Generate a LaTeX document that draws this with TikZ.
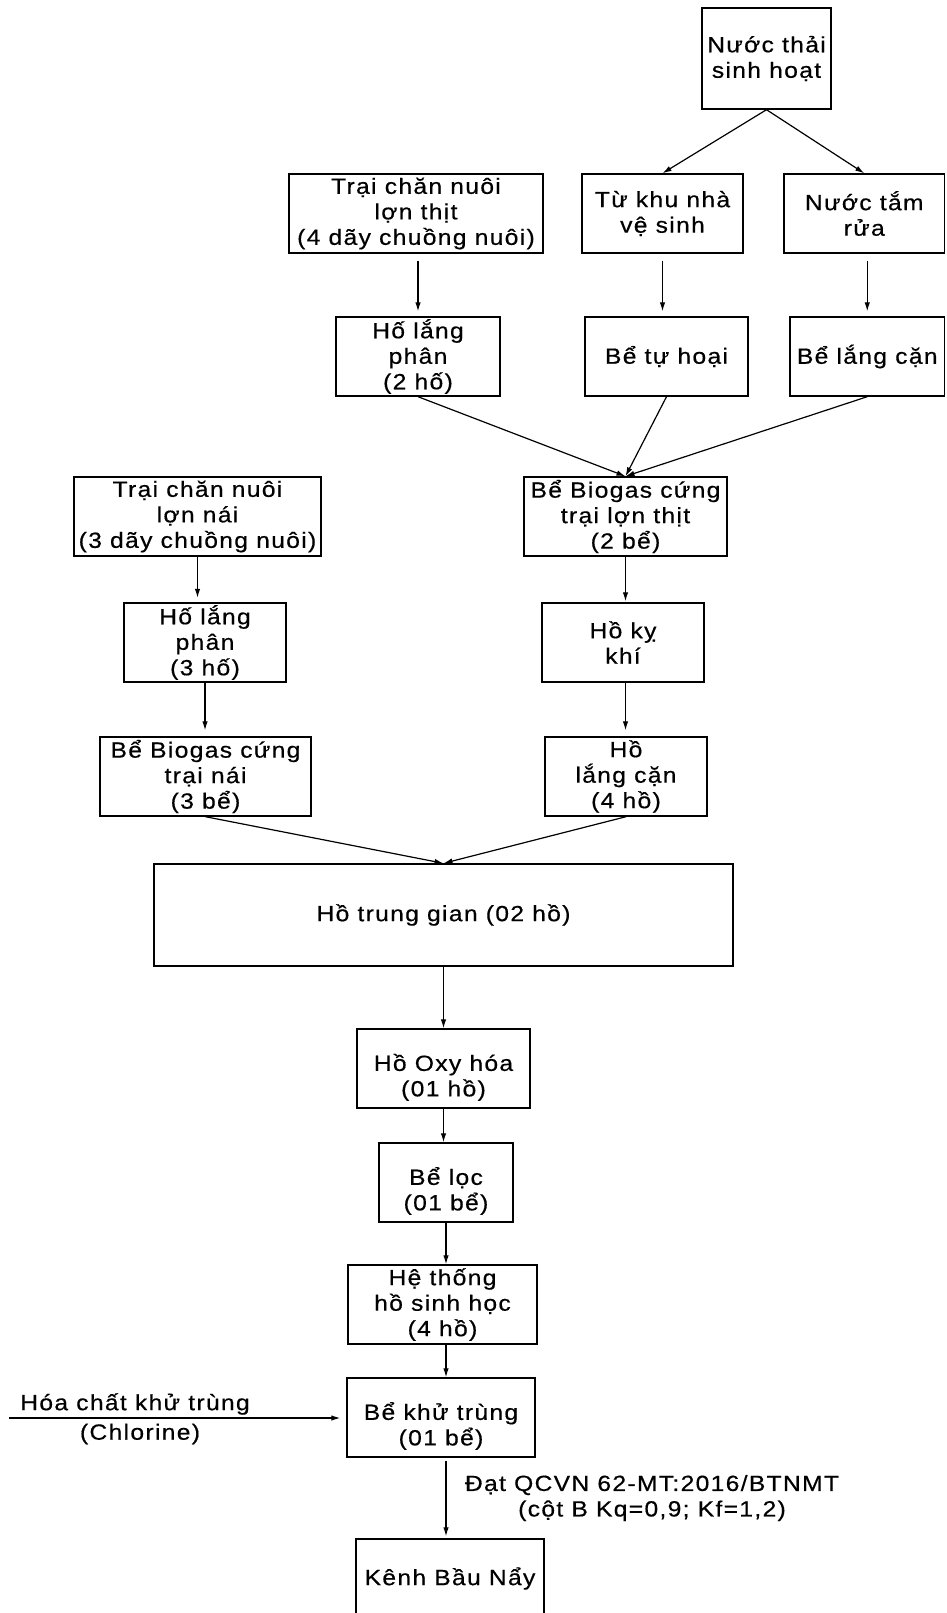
\documentclass[tikz,border=0pt]{standalone}
\usepackage{fontspec}
\setmainfont{Liberation Sans}[FakeStretch=1.12,LetterSpace=6,FakeBold=0.5]
\usetikzlibrary{arrows.meta}
\newcommand\bx[6]{\node[bx, minimum width={#4-#2}, minimum height={#5-#3}] (#1) at ({(#2+#4)/2},{(#3+#5)/2}) {#6};}
\newcommand\dn[1]{\raisebox{-10pt}[\height][\depth]{\begin{tabular}{@{}c@{}}#1\end{tabular}}}
\tikzset{
  bx/.style={draw, line width=1.4pt, inner sep=0pt, align=center},
  arr/.style={-{Latex[length=9pt,width=5.5pt]}, line width=1.2pt},
  lbl/.style={inner sep=0pt, align=center}
}
\begin{document}
\begin{tikzpicture}[x=1pt,y=-1pt,font=\fontsize{22}{25.5}\selectfont]
\useasboundingbox (0,0) rectangle (946,1613);
\bx{nt}{702}{8}{831}{109}{Nước thải\\sinh hoạt}
\bx{tt}{289}{174}{543}{253}{Trại chăn nuôi\\lợn thịt\\(4 dãy chuồng nuôi)}
\bx{tk}{582}{174}{743}{253}{Từ khu nhà\\vệ sinh}
\bx{ntr}{784}{174}{944.5}{253}{Nước tắm\\rửa}
\bx{hlb}{336}{317}{500}{396}{Hố lắng\\phân\\(2 hố)}
\bx{th}{585}{317}{748}{396}{Bể tự hoại}
\bx{blc}{790}{317}{944.5}{396}{Bể lắng cặn}
\bx{bga}{524}{477}{727}{556}{Bể Biogas cứng\\trại lợn thịt\\(2 bể)}
\bx{tn}{74}{477}{321}{556}{Trại chăn nuôi\\lợn nái\\(3 dãy chuồng nuôi)}
\bx{hlc3}{124}{603}{286}{682}{Hố lắng\\phân\\(3 hố)}
\bx{hkk}{542}{603}{704}{682}{Hồ kỵ\\khí}
\bx{bgb}{100}{737}{311}{816}{Bể Biogas cứng\\trại nái\\(3 bể)}
\bx{hlc}{545}{737}{707}{816}{Hồ\\lắng cặn\\(4 hồ)}
\bx{htg}{154}{864}{733}{966}{Hồ trung gian (02 hồ)}
\bx{oxy}{357}{1029}{530}{1108}{\dn{Hồ Oxy hóa\\(01 hồ)}}
\bx{loc}{379}{1143}{513}{1222}{\dn{Bể lọc\\(01 bể)}}
\bx{hsh}{348}{1265}{537}{1344}{Hệ thống\\hồ sinh học\\(4 hồ)}
\bx{kt}{347}{1378}{535}{1457}{\dn{Bể khử trùng\\(01 bể)}}
\bx{kbn}{356}{1539}{544}{1618}{Kênh Bầu Nẩy}
% labels
\node[lbl] (lh) at (135,1404) {Hóa chất khử trùng};
\node[lbl] (lc) at (140,1434) {(Chlorine)};
\node[lbl] (lq) at (652,1498) {Đạt QCVN 62-MT:2016/BTNMT\\(cột B Kq=0,9; Kf=1,2)};
\coordinate (hc) at (9,1418);
% arrows
\draw[arr] (nt.south) -- (tk.north);
\draw[arr] (nt.south) -- (ntr.north);
\draw[arr, shorten <=7pt, shorten >=5pt] (hlb.north |- tt.south) -- (hlb.north);
\draw[arr, shorten <=7pt, shorten >=5pt] (tk.south) -- (tk.south |- th.north);
\draw[arr, shorten <=7pt, shorten >=5pt] (blc.north |- ntr.south) -- (blc.north);
\draw[arr] (hlb.south) -- (bga.north);
\draw[arr] (th.south) -- (bga.north);
\draw[arr] (blc.south) -- (bga.north);
\draw[arr, shorten >=4.5pt] (tn.south) -- (tn.south |- hlc3.north);
\draw[arr, shorten >=6pt] (hlc3.south) -- (hlc3.south |- bgb.north);
\draw[arr, shorten >=1pt] (bga.south) -- (bga.south |- hkk.north);
\draw[arr, shorten >=6pt] (bga.south |- hkk.south) -- (bga.south |- hlc.north);
\draw[arr] (bgb.south) -- (htg.north);
\draw[arr] (hlc.south) -- (htg.north);
\draw[arr] (htg.south) -- (htg.south |- oxy.north);
\draw[arr] (htg.south |- oxy.south) -- (htg.south |- loc.north);
\draw[arr] (loc.south) -- (loc.south |- hsh.north);
\draw[arr] (loc.south |- hsh.south) -- (loc.south |- kt.north);
\draw[arr, shorten <=3pt, shorten >=2pt] (loc.south |- kt.south) -- (loc.south |- kbn.north);
\draw[arr, shorten >=6pt] (hc) -- (hc -| kt.west);
\end{tikzpicture}
\end{document}
